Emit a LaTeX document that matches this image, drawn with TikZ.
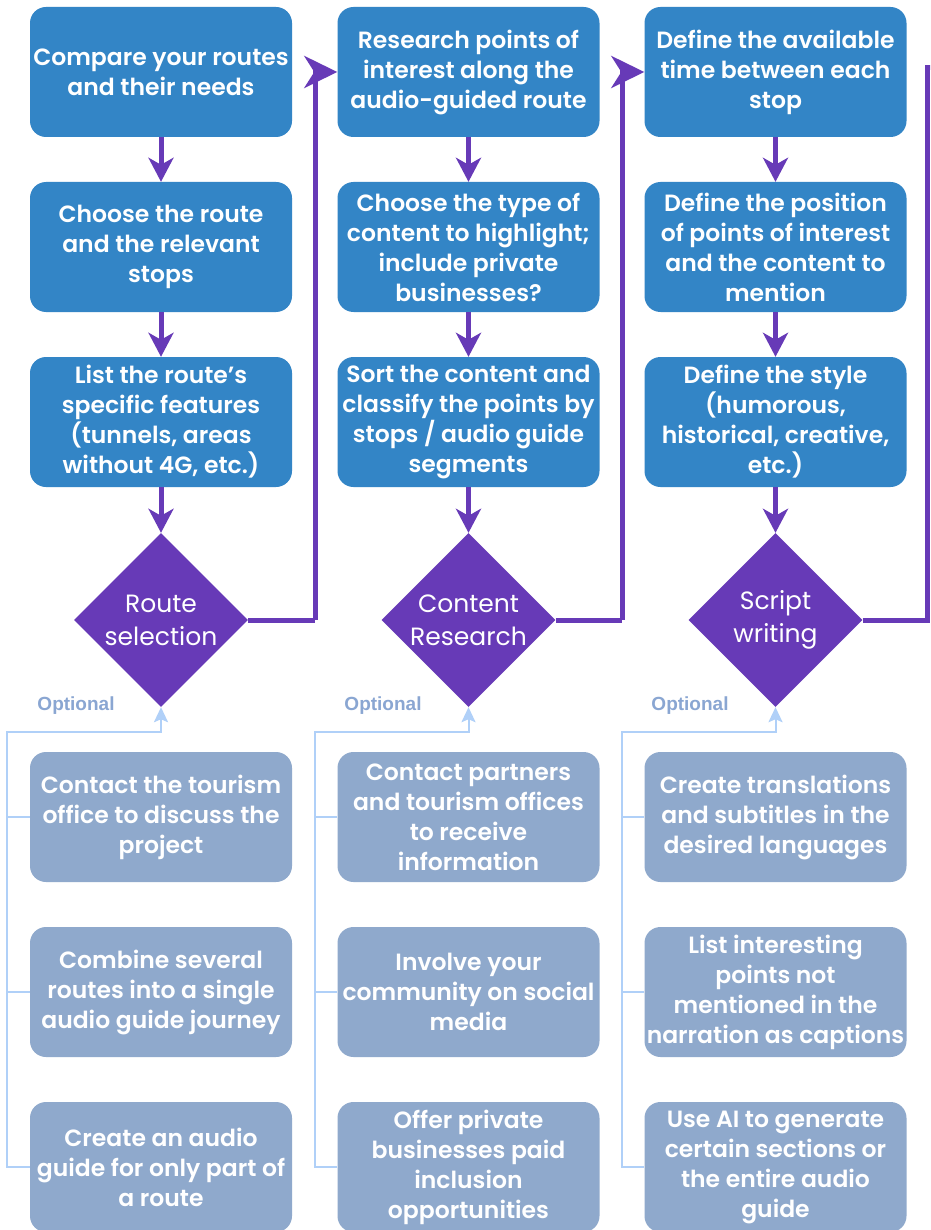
\documentclass[tikz,border=0pt]{standalone}
\usepackage{fontspec}
\setmainfont{Poppins}[BoldFont={Poppins SemiBold}]
\newfontfamily\arialfont{Liberation Sans}
\usetikzlibrary{shapes.geometric,arrows.meta}
\definecolor{boxblue}{HTML}{3385C6}
\definecolor{optgray}{HTML}{8FA9CC}
\definecolor{purp}{HTML}{673AB7}
\definecolor{lightline}{HTML}{B0D0F8}
\definecolor{opttext}{HTML}{8AA6D2}
\tikzset{
  stepbox/.style={rectangle, rounded corners=16pt, fill=boxblue, text=white,
    font=\bfseries\fontsize{23.5}{30}\selectfont, align=center,
    minimum width=262pt, minimum height=130pt, inner sep=0pt},
  optbox/.style={stepbox, fill=optgray},
  decision/.style={diamond, fill=purp, text=white, aspect=1,
    font=\fontsize{25}{33}\selectfont, align=center,
    minimum width=174pt, minimum height=174pt, inner sep=0pt},
  flowline/.style={draw=purp, line width=5pt},
  flowarrow/.style={flowline, -{Stealth[length=24pt,width=25pt,inset=7pt]}},
  bigarrow/.style={flowline, -{Stealth[length=33pt,width=32pt,inset=10pt]}},
  optline/.style={draw=lightline, line width=2pt},
  optarrow/.style={optline, -{Stealth[length=15pt,width=14pt,inset=3pt,fill=lightline]}},
  optlabel/.style={text=opttext, font=\arialfont\bfseries\fontsize{19}{22}\selectfont, inner sep=0pt}
}
\begin{document}
\begin{tikzpicture}[x=1pt,y=-1pt]
\useasboundingbox (0,0) rectangle (930,1230);
\clip (0,0) rectangle (930,1230);
\fill[white] (0,0) rectangle (930,1230);

% Column 1
\node[stepbox] (a1) at (161,72) {Compare your routes\\and their needs};
\node[stepbox] (a2) at (161,247) {Choose the route\\and the relevant\\stops};
\node[stepbox] (a3) at (161,422) {List the route's\\specific features\\(tunnels, areas\\without 4G, etc.)};
\node[decision] (d1) at (161,620) {Route\\selection};
\node[optbox] (o11) at (161,817) {Contact the tourism\\office to discuss the\\project};
\node[optbox] (o12) at (161,992) {Combine several\\routes into a single\\audio guide journey};
\node[optbox] (o13) at (161,1167) {Create an audio\\guide for only part of\\a route};
\node[optlabel] (l1) at (76,706) {Optional};

% Column 2
\node[stepbox] (b1) at (468.5,72) {Research points of\\interest along the\\audio-guided route};
\node[stepbox] (b2) at (468.5,247) {Choose the type of\\content to highlight;\\include private\\businesses?};
\node[stepbox] (b3) at (468.5,422) {Sort the content and\\classify the points by\\stops / audio guide\\segments};
\node[decision] (d2) at (468.5,620) {Content\\Research};
\node[optbox] (o21) at (468.5,817) {Contact partners\\and tourism offices\\to receive\\information};
\node[optbox] (o22) at (468.5,992) {Involve your\\community on social\\media};
\node[optbox] (o23) at (468.5,1167) {Offer private\\businesses paid\\inclusion\\opportunities};
\node[optlabel] (l2) at (383,706) {Optional};

% Column 3
\node[stepbox] (c1) at (775.5,72) {Define the available\\time between each\\stop};
\node[stepbox] (c2) at (775.5,247) {Define the position\\of points of interest\\and the content to\\mention};
\node[stepbox] (c3) at (775.5,422) {Define the style\\(humorous,\\historical, creative,\\etc.)};
\node[decision] (d3) at (775.5,620) {Script\\writing};
\node[optbox] (o31) at (775.5,817) {Create translations\\and subtitles in the\\desired languages};
\node[optbox] (o32) at (775.5,992) {List interesting\\points not\\mentioned in the\\narration as captions};
\node[optbox] (o33) at (775.5,1167) {Use AI to generate\\certain sections or\\the entire audio\\guide};
\node[optlabel] (l3) at (690,706) {Optional};

% coordinates
\coordinate (r1) at (315,620);
\coordinate (r2) at (622,620);
\coordinate (r3) at (927.5,620);
\coordinate (e3) at (960,68);
\coordinate (t1) at (7,732);
\coordinate (t2) at (315,732);
\coordinate (t3) at (622,732);

% main flow
\foreach \c/\d in {a/d1,b/d2,c/d3}{
  \draw[flowarrow] (\c1.south) -- (\c2.north);
  \draw[flowarrow] (\c2.south) -- (\c3.north);
  \draw[flowarrow] (\c3.south) -- (\d.north);
}
\draw[flowline] (d1.east) -- (r1);
\draw[bigarrow] (r1) |- (b1.west);
\draw[flowline] (d2.east) -- (r2);
\draw[bigarrow] (r2) |- (c1.west);
\draw[flowline] (d3.east) -- (r3) |- (e3);

% optional connectors
\draw[optarrow] (o13.west) -| (t1) -| (d1.south);
\draw[optline] (o11.west) -- (o11.west -| t1);
\draw[optline] (o12.west) -- (o12.west -| t1);
\draw[optarrow] (o23.west) -| (t2) -| (d2.south);
\draw[optline] (o21.west) -- (o21.west -| t2);
\draw[optline] (o22.west) -- (o22.west -| t2);
\draw[optarrow] (o33.west) -| (t3) -| (d3.south);
\draw[optline] (o31.west) -- (o31.west -| t3);
\draw[optline] (o32.west) -- (o32.west -| t3);
\end{tikzpicture}
\end{document}
